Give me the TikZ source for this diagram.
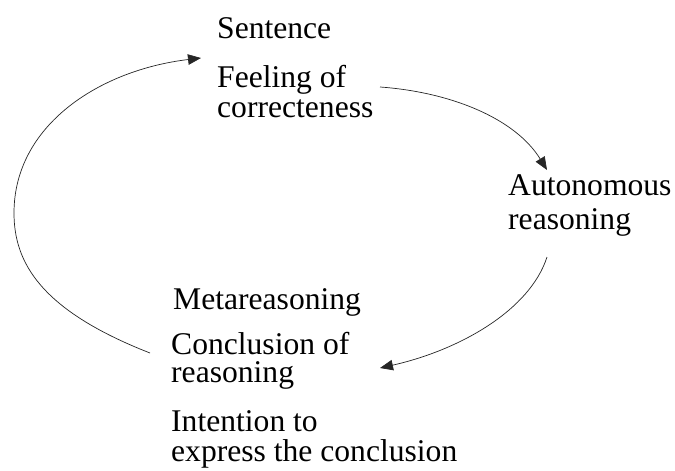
\documentclass[tikz,border=0pt]{standalone}
\usepackage{fontspec}
\setmainfont{Liberation Serif}
\usetikzlibrary{arrows.meta}
\begin{document}
\begin{tikzpicture}[x=1pt,y=-1pt,
  lbl/.style={anchor=base west,inner sep=0pt,text height=20pt,text depth=6pt,font=\fontsize{31.6}{32}\selectfont},
  conn/.style={line width=0.7pt,draw=black!85,-{Triangle[length=13pt,width=10.5pt]}}]
\useasboundingbox (0,0) rectangle (675,471);
% top block
\node[lbl] (sent) at (217,38) {Sentence};
\node[lbl] (feel) at (217,87) {Feeling of};
\node[lbl] (corr) at (217,117) {correcteness};
% right block
\node[lbl] (auto) at (508,195) {Autonomous};
\node[lbl] (reas1) at (508,229) {reasoning};
% bottom block
\node[lbl] (meta) at (173,309) {Metareasoning};
\node[lbl] (concl) at (171,354) {Conclusion of};
\node[lbl] (reas2) at (171,382) {reasoning};
\node[lbl] (inte) at (171,431) {Intention to};
\node[lbl] (expr) at (171,461) {express the conclusion};
% connector end points
\coordinate (a1s) at (380,87);
\coordinate (a1e) at (547,170);
\coordinate (a2s) at (547,257);
\coordinate (a2e) at (380,368);
\coordinate (a3s) at (150,353);
\coordinate (a3m) at (14,213);
\coordinate (a3e) at (201,58);
\draw[conn] (a1s) .. controls (450,92) and (515,118) .. (a1e);
\draw[conn] (a2s) .. controls (530,310) and (460,350) .. (a2e);
\draw[conn] (a3s) .. controls (40,310) and (14,262) .. (a3m) .. controls (14,125) and (100,70) .. (a3e);
\end{tikzpicture}
\end{document}
